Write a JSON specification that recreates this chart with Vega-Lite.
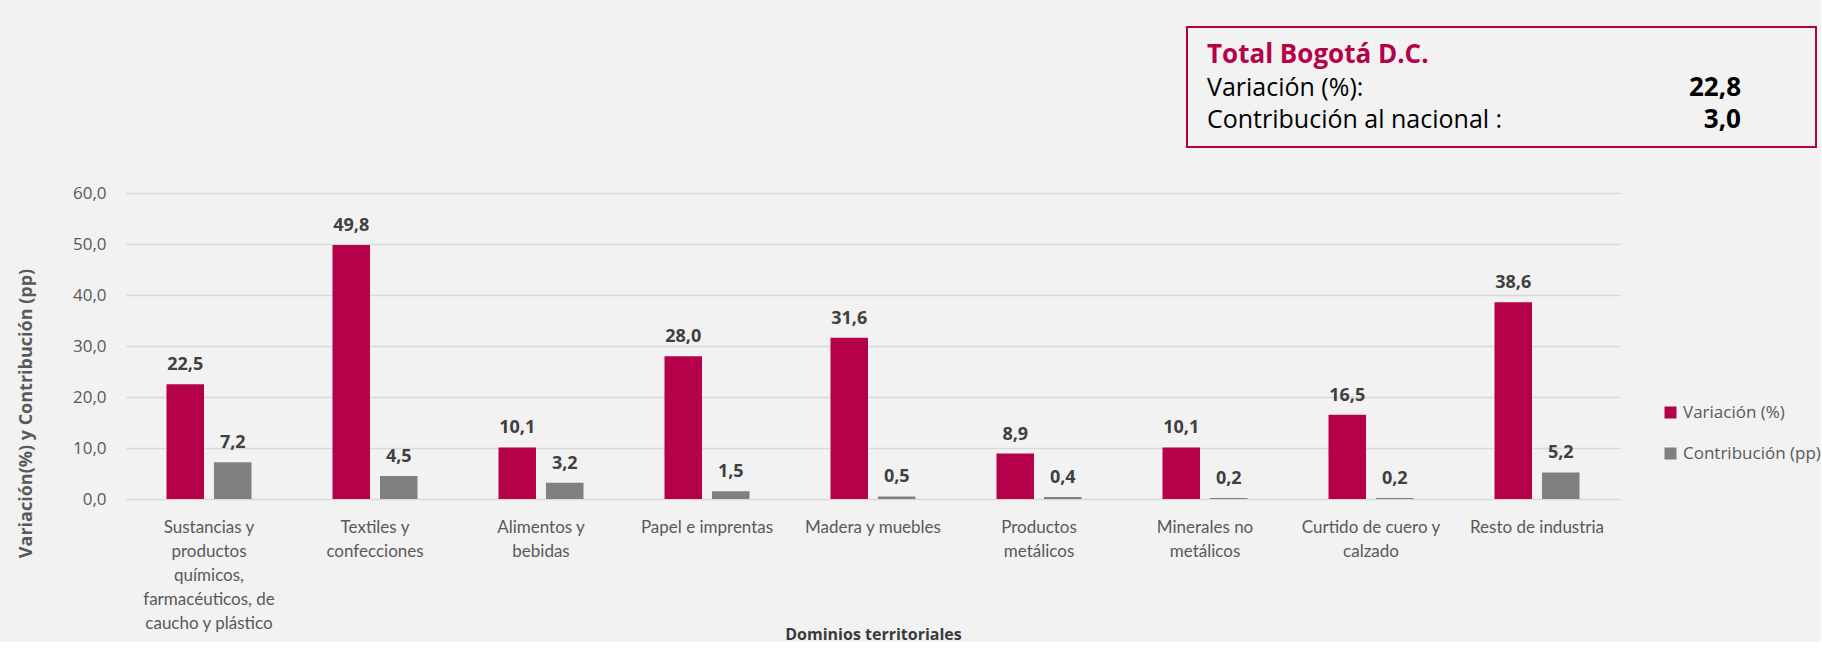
{
  "$schema": "https://vega.github.io/schema/vega-lite/v6.json",
  "background": "#f2f2f2",
  "padding": {"left": 16, "top": 26, "right": 0, "bottom": 0},
  "spacing": 36,
  "config": {
    "view": {"stroke": null},
    "font": "Open Sans",
    "locale": {"number": {"decimal": ",", "thousands": ".", "grouping": [3], "currency": ["$", ""]}}
  },
  "vconcat": [
    {
      "spacing": 0,
      "hconcat": [
        {
          "width": 1060,
          "height": 120,
          "data": {"values": [{}]},
          "mark": {"type": "text", "opacity": 0}
        },
        {
          "width": 629,
          "height": 120,
          "view": {"stroke": "#b5004a", "strokeWidth": 2},
          "data": {"values": [
            {"fila": "titulo", "texto": "Total Bogotá D.C.", "valor": null},
            {"fila": "variacion", "texto": "Variación (%):", "valor": 22.8},
            {"fila": "contribucion", "texto": "Contribución al nacional :", "valor": 3.0}
          ]},
          "encoding": {
            "y": {"field": "fila", "type": "nominal", "sort": ["titulo", "variacion", "contribucion"], "scale": {"type": "point", "range": [36, 101], "padding": 0}, "axis": null}
          },
          "layer": [
            {
              "transform": [{"filter": "datum.fila == 'titulo'"}],
              "mark": {"type": "text", "align": "left", "baseline": "alphabetic", "font": "Open Sans", "fontSize": 26, "fontWeight": "bold", "color": "#b5004a"},
              "encoding": {
                "x": {"datum": "etiqueta", "type": "nominal", "scale": {"type": "point", "domain": ["etiqueta", "valor"], "range": [20, 554], "padding": 0}, "axis": null},
                "text": {"field": "texto"}
              }
            },
            {
              "transform": [{"filter": "datum.fila != 'titulo'"}],
              "mark": {"type": "text", "align": "left", "baseline": "alphabetic", "font": "Open Sans", "fontSize": 25, "color": "#000000"},
              "encoding": {
                "x": {"datum": "etiqueta", "type": "nominal", "scale": {"type": "point", "domain": ["etiqueta", "valor"], "range": [20, 554], "padding": 0}, "axis": null},
                "text": {"field": "texto"}
              }
            },
            {
              "transform": [{"filter": "datum.valor != null"}],
              "mark": {"type": "text", "align": "right", "baseline": "alphabetic", "font": "Open Sans", "fontSize": 26, "fontWeight": "bold", "color": "#000000"},
              "encoding": {
                "x": {"datum": "valor", "type": "nominal", "scale": {"type": "point", "domain": ["etiqueta", "valor"], "range": [20, 554], "padding": 0}, "axis": null},
                "text": {"field": "valor", "type": "quantitative", "format": ".1f"}
              }
            }
          ]
        }
      ]
    },
    {
      "width": 1494,
      "height": 306,
      "data": {"values": [
        {"dominio": "Sustancias y productos químicos, farmacéuticos, de caucho y plástico", "serie": "Variación (%)", "valor": 22.5},
        {"dominio": "Sustancias y productos químicos, farmacéuticos, de caucho y plástico", "serie": "Contribución (pp)", "valor": 7.2},
        {"dominio": "Textiles y confecciones", "serie": "Variación (%)", "valor": 49.8},
        {"dominio": "Textiles y confecciones", "serie": "Contribución (pp)", "valor": 4.5},
        {"dominio": "Alimentos y bebidas", "serie": "Variación (%)", "valor": 10.1},
        {"dominio": "Alimentos y bebidas", "serie": "Contribución (pp)", "valor": 3.2},
        {"dominio": "Papel e imprentas", "serie": "Variación (%)", "valor": 28.0},
        {"dominio": "Papel e imprentas", "serie": "Contribución (pp)", "valor": 1.5},
        {"dominio": "Madera y muebles", "serie": "Variación (%)", "valor": 31.6},
        {"dominio": "Madera y muebles", "serie": "Contribución (pp)", "valor": 0.5},
        {"dominio": "Productos metálicos", "serie": "Variación (%)", "valor": 8.9},
        {"dominio": "Productos metálicos", "serie": "Contribución (pp)", "valor": 0.4},
        {"dominio": "Minerales no metálicos", "serie": "Variación (%)", "valor": 10.1},
        {"dominio": "Minerales no metálicos", "serie": "Contribución (pp)", "valor": 0.2},
        {"dominio": "Curtido de cuero y calzado", "serie": "Variación (%)", "valor": 16.5},
        {"dominio": "Curtido de cuero y calzado", "serie": "Contribución (pp)", "valor": 0.2},
        {"dominio": "Resto de industria", "serie": "Variación (%)", "valor": 38.6},
        {"dominio": "Resto de industria", "serie": "Contribución (pp)", "valor": 5.2}
      ]},
      "encoding": {
        "x": {
          "field": "dominio", "type": "nominal", "sort": null,
          "scale": {"paddingInner": 0.488, "paddingOuter": 0.244},
          "axis": {
            "title": "Dominios territoriales",
            "titleFont": "Open Sans", "titleFontSize": 16, "titleFontWeight": "bold", "titleColor": "#3a3a3a",
            "titleY": 135, "titleBaseline": "middle",
            "labelAngle": 0, "labelFont": "Lato", "labelFontSize": 17, "labelColor": "#595959",
            "labelLineHeight": 24, "labelPadding": 20, "labelLimit": 0,
            "ticks": false, "domain": false, "grid": false,
            "labelExpr": "datum.value == 'Sustancias y productos químicos, farmacéuticos, de caucho y plástico' ? ['Sustancias y', 'productos', 'químicos,', 'farmacéuticos, de', 'caucho y plástico'] : datum.value == 'Textiles y confecciones' ? ['Textiles y', 'confecciones'] : datum.value == 'Alimentos y bebidas' ? ['Alimentos y', 'bebidas'] : datum.value == 'Productos metálicos' ? ['Productos', 'metálicos'] : datum.value == 'Minerales no metálicos' ? ['Minerales no', 'metálicos'] : datum.value == 'Curtido de cuero y calzado' ? ['Curtido de cuero y', 'calzado'] : datum.label"
          }
        },
        "xOffset": {"field": "serie", "type": "nominal", "sort": ["Variación (%)", "Contribución (pp)"], "scale": {"paddingInner": 0.21}},
        "y": {
          "field": "valor", "type": "quantitative",
          "scale": {"domain": [0, 60]},
          "axis": {
            "values": [0, 10, 20, 30, 40, 50, 60], "format": ".1f",
            "title": "Variación(%) y Contribución (pp)",
            "titleFont": "Open Sans", "titleFontSize": 18, "titleFontWeight": "bold", "titleColor": "#595959",
            "titleX": -91, "titleY": 220,
            "labelFont": "Open Sans", "labelFontSize": 17, "labelColor": "#595959", "labelPadding": 20,
            "ticks": false, "domain": false,
            "grid": true, "gridColor": "#d9d9d9", "gridWidth": 1.5
          }
        }
      },
      "layer": [
        {
          "mark": {"type": "bar"},
          "encoding": {
            "color": {
              "field": "serie", "type": "nominal",
              "sort": ["Variación (%)", "Contribución (pp)"],
              "scale": {"domain": ["Variación (%)", "Contribución (pp)"], "range": ["#b5004a", "#808080"]},
              "legend": {
                "title": null, "orient": "none", "legendX": 1536, "legendY": 377,
                "symbolType": "square", "symbolSize": 144, "symbolStrokeWidth": 0,
                "labelFont": "Open Sans", "labelFontSize": 17, "labelColor": "#595959",
                "labelOffset": 4, "rowPadding": 23
              }
            }
          }
        },
        {
          "mark": {"type": "text", "baseline": "alphabetic", "dy": -14, "font": "Open Sans", "fontSize": 18, "fontWeight": "bold", "color": "#404040"},
          "encoding": {
            "text": {"field": "valor", "type": "quantitative", "format": ".1f"}
          }
        }
      ]
    }
  ]
}
